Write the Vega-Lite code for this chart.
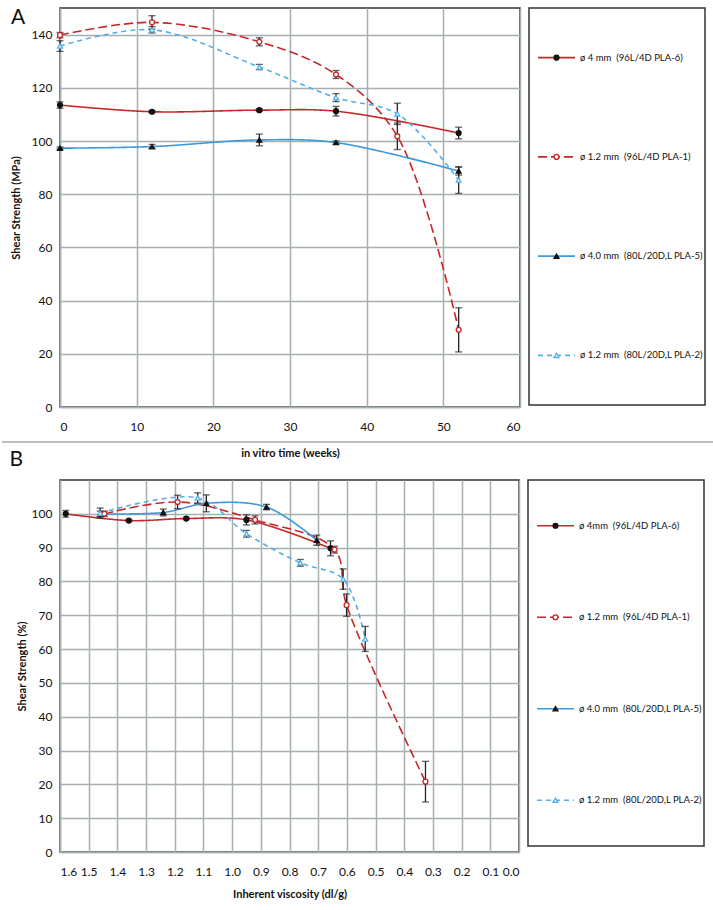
{
  "$schema": "https://vega.github.io/schema/vega-lite/v6.json",
  "padding": {"left": 0, "right": 0, "top": 6, "bottom": 0},
  "spacing": 8,
  "config": {
    "font": "Lato",
    "view": {"stroke": "#333333", "strokeWidth": 1.5},
    "axis": {
      "grid": true, "gridColor": "#a6b0b0", "gridWidth": 1.5,
      "ticks": false, "domain": true, "domainColor": "#a6b0b0", "domainWidth": 1.5,
      "labelFont": "Lato", "labelFontSize": 12, "labelColor": "#111111", "labelOverlap": false,
      "titleFont": "Lato", "titleFontSize": 11, "titleFontWeight": "bold", "titleColor": "#111111"
    }
  },
  "datasets": {
    "a": [
      {"s": "s1", "x": 0, "y": 113.5, "e": 1.2},
      {"s": "s1", "x": 12, "y": 111, "e": 0.4},
      {"s": "s1", "x": 26, "y": 111.6, "e": 0.5},
      {"s": "s1", "x": 36, "y": 111.2, "e": 1.8},
      {"s": "s1", "x": 52, "y": 103, "e": 2.2},
      {"s": "s2", "x": 0, "y": 139.8, "e": 1},
      {"s": "s2", "x": 12, "y": 144.6, "e": 2.5},
      {"s": "s2", "x": 26, "y": 137.3, "e": 1.5},
      {"s": "s2", "x": 36, "y": 125, "e": 1.5},
      {"s": "s2", "x": 44, "y": 101.8, "e": 5},
      {"s": "s2", "x": 52, "y": 29, "e": 8.3},
      {"s": "s3", "x": 0, "y": 97.3, "e": 0.4},
      {"s": "s3", "x": 12, "y": 97.9, "e": 0.8},
      {"s": "s3", "x": 26, "y": 100.4, "e": 2.2},
      {"s": "s3", "x": 36, "y": 99.4, "e": 0.6},
      {"s": "s3", "x": 52, "y": 88.7, "e": 1.5},
      {"s": "s4", "x": 0, "y": 135.7, "e": 2},
      {"s": "s4", "x": 12, "y": 141.8, "e": 1.2},
      {"s": "s4", "x": 26, "y": 127.8, "e": 1},
      {"s": "s4", "x": 36, "y": 116.3, "e": 1.5},
      {"s": "s4", "x": 44, "y": 110.2, "e": 4},
      {"s": "s4", "x": 52, "y": 85.3, "e": 5}
    ],
    "b": [
      {"s": "s1", "x": 1.58, "y": 100, "e": 1.0},
      {"s": "s1", "x": 1.36, "y": 98.0, "e": 0.3},
      {"s": "s1", "x": 1.16, "y": 98.6, "e": 0.3},
      {"s": "s1", "x": 0.95, "y": 98.2, "e": 1.5},
      {"s": "s1", "x": 0.657, "y": 89.8, "e": 2.2},
      {"s": "s2", "x": 1.445, "y": 100, "e": 0.8},
      {"s": "s2", "x": 1.19, "y": 103.5, "e": 2},
      {"s": "s2", "x": 0.92, "y": 98.2, "e": 1.2},
      {"s": "s2", "x": 0.643, "y": 89.4, "e": 1},
      {"s": "s2", "x": 0.601, "y": 73, "e": 3.3},
      {"s": "s2", "x": 0.326, "y": 20.8, "e": 6},
      {"s": "s3", "x": 1.46, "y": 100, "e": 0.8},
      {"s": "s3", "x": 1.24, "y": 100.4, "e": 1},
      {"s": "s3", "x": 1.09, "y": 103.1, "e": 2.5},
      {"s": "s3", "x": 0.88, "y": 102, "e": 0.8},
      {"s": "s3", "x": 0.705, "y": 92.2, "e": 1.5},
      {"s": "s4", "x": 1.46, "y": 100.2, "e": 1.5},
      {"s": "s4", "x": 1.12, "y": 104.7, "e": 1.5},
      {"s": "s4", "x": 0.95, "y": 94.1, "e": 1},
      {"s": "s4", "x": 0.762, "y": 85.5, "e": 1},
      {"s": "s4", "x": 0.613, "y": 80.7, "e": 3},
      {"s": "s4", "x": 0.536, "y": 63, "e": 3.7}
    ],
    "legA": [
      {"s": "s1", "label": "ø 4 mm\u00a0 (96L/4D PLA-6)"},
      {"s": "s2", "label": "ø 1.2 mm\u00a0 (96L/4D PLA-1)"},
      {"s": "s3", "label": "ø 4.0 mm\u00a0 (80L/20D,L PLA-5)"},
      {"s": "s4", "label": "ø 1.2 mm\u00a0 (80L/20D,L PLA-2)"}
    ],
    "legB": [
      {"s": "s1", "label": "ø 4mm\u00a0 (96L/4D PLA-6)"},
      {"s": "s2", "label": "ø 1.2 mm\u00a0 (96L/4D PLA-1)"},
      {"s": "s3", "label": "ø 4.0 mm\u00a0 (80L/20D,L PLA-5)"},
      {"s": "s4", "label": "ø 1.2 mm\u00a0 (80L/20D,L PLA-2)"}
    ]
  },
  "vconcat": [
    {
      "bounds": "flush",
      "spacing": 9,
      "hconcat": [
        {
          "width": 460,
          "height": 399,
          "data": {"name": "a"},
          "encoding": {
            "x": {"field": "x", "type": "quantitative", "title": "in vitro time (weeks)",
              "scale": {"domain": [0, 60], "nice": false, "zero": false},
              "axis": {"values": [0, 10, 20, 30, 40, 50, 60], "labelPadding": 14, "titlePadding": 15}},
            "y": {"field": "y", "type": "quantitative", "title": "Shear Strength (MPa)",
              "scale": {"domain": [0, 150], "nice": false, "zero": false},
              "axis": {"values": [0, 20, 40, 60, 80, 100, 120, 140], "labelPadding": 8, "titlePadding": 10}}
          },
          "layer": [
            {
              "data": {"values": [{"xa": -7.6, "xb": 85.4, "yy": -13.2}]},
              "mark": {"type": "rule", "clip": false, "color": "#aaaaaa", "strokeWidth": 1.5},
              "encoding": {
                "x": {"field": "xa", "type": "quantitative"},
                "x2": {"field": "xb"},
                "y": {"field": "yy", "type": "quantitative"}
              }
            },
            {
              "data": {"values": [{"t": "A", "px": -6.4, "py": 144}, {"t": "B", "px": -6.6, "py": -22.2}]},
              "mark": {"type": "text", "clip": false, "fontSize": 21, "align": "left", "baseline": "alphabetic", "font": "Lato", "color": "#111111"},
              "encoding": {
                "x": {"field": "px", "type": "quantitative"},
                "y": {"field": "py", "type": "quantitative"},
                "text": {"field": "t"}
              }
            },
            {
              "mark": {"type": "line", "interpolate": "catmull-rom", "strokeWidth": 1.6},
              "encoding": {
                "color": {"field": "s", "type": "nominal", "legend": null,
                  "scale": {"domain": ["s1", "s2", "s3", "s4"], "range": ["#c62828", "#c62828", "#3b99dc", "#55aee8"]}},
                "strokeDash": {"field": "s", "type": "nominal", "legend": null,
                  "scale": {"domain": ["s1", "s2", "s3", "s4"], "range": [[1, 0], [9, 4], [1, 0], [5, 4]]}}
              }
            },
            {
              "transform": [{"filter": "datum.e > 0"}],
              "mark": {"type": "errorbar", "ticks": true, "size": 7, "thickness": 1.3, "color": "#222222"},
              "encoding": {"yError": {"field": "e"}}
            },
            {
              "mark": {"type": "point", "opacity": 1, "strokeWidth": 1.3, "size": 24},
              "encoding": {
                "shape": {"field": "s", "type": "nominal", "legend": null,
                  "scale": {"domain": ["s1", "s2", "s3", "s4"], "range": ["circle", "circle", "triangle-up", "triangle-up"]}},
                "fill": {"field": "s", "type": "nominal", "legend": null,
                  "scale": {"domain": ["s1", "s2", "s3", "s4"], "range": ["#111111", "#ffffff", "#111111", "#ffffff"]}},
                "stroke": {"field": "s", "type": "nominal", "legend": null,
                  "scale": {"domain": ["s1", "s2", "s3", "s4"], "range": ["#111111", "#c62828", "#111111", "#55aee8"]}}
              }
            }
          ]
        },
        {
          "width": 176,
          "height": 397,
          "data": {"name": "legA"},
          "encoding": {
            "y": {"field": "s", "type": "nominal", "axis": null,
              "scale": {"type": "point", "padding": 0.5, "domain": ["s1", "s2", "s3", "s4"]}}
          },
          "layer": [
            {
              "mark": {"type": "rule", "strokeWidth": 1.6},
              "encoding": {
                "x": {"datum": 9, "type": "quantitative", "scale": {"domain": [0, 176], "nice": false, "zero": false}, "axis": null},
                "x2": {"datum": 46},
                "color": {"field": "s", "type": "nominal", "legend": null,
                  "scale": {"domain": ["s1", "s2", "s3", "s4"], "range": ["#c62828", "#c62828", "#3b99dc", "#55aee8"]}},
                "strokeDash": {"field": "s", "type": "nominal", "legend": null,
                  "scale": {"domain": ["s1", "s2", "s3", "s4"], "range": [[1, 0], [9, 4], [1, 0], [5, 4]]}}
              }
            },
            {
              "mark": {"type": "point", "opacity": 1, "strokeWidth": 1.3, "size": 24},
              "encoding": {
                "x": {"datum": 27.5, "type": "quantitative"},
                "shape": {"field": "s", "type": "nominal", "legend": null,
                  "scale": {"domain": ["s1", "s2", "s3", "s4"], "range": ["circle", "circle", "triangle-up", "triangle-up"]}},
                "fill": {"field": "s", "type": "nominal", "legend": null,
                  "scale": {"domain": ["s1", "s2", "s3", "s4"], "range": ["#111111", "#ffffff", "#111111", "#ffffff"]}},
                "stroke": {"field": "s", "type": "nominal", "legend": null,
                  "scale": {"domain": ["s1", "s2", "s3", "s4"], "range": ["#111111", "#c62828", "#111111", "#55aee8"]}}
              }
            },
            {
              "mark": {"type": "text", "align": "left", "baseline": "middle", "fontSize": 9.5, "font": "Lato", "color": "#111111"},
              "encoding": {
                "x": {"datum": 51, "type": "quantitative"},
                "text": {"field": "label"}
              }
            }
          ]
        }
      ]
    },
    {
      "bounds": "flush",
      "spacing": 9,
      "hconcat": [
        {
          "width": 459,
          "height": 372,
          "data": {"name": "b"},
          "encoding": {
            "x": {"field": "x", "type": "quantitative", "title": "Inherent viscosity (dl/g)",
              "scale": {"domain": [0, 1.6], "reverse": true, "nice": false, "zero": false},
              "axis": {"values": [0, 0.1, 0.2, 0.3, 0.4, 0.5, 0.6, 0.7, 0.8, 0.9, 1.0, 1.1, 1.2, 1.3, 1.4, 1.5, 1.6], "format": ".1f", "labelPadding": 14, "titlePadding": 11}},
            "y": {"field": "y", "type": "quantitative", "title": "Shear Strength (%)",
              "scale": {"domain": [0, 110], "nice": false, "zero": false},
              "axis": {"values": [0, 10, 20, 30, 40, 50, 60, 70, 80, 90, 100], "labelPadding": 8, "titlePadding": 4}}
          },
          "layer": [
            {
              "mark": {"type": "line", "interpolate": "catmull-rom", "strokeWidth": 1.6},
              "encoding": {
                "color": {"field": "s", "type": "nominal", "legend": null,
                  "scale": {"domain": ["s1", "s2", "s3", "s4"], "range": ["#c62828", "#c62828", "#3b99dc", "#55aee8"]}},
                "strokeDash": {"field": "s", "type": "nominal", "legend": null,
                  "scale": {"domain": ["s1", "s2", "s3", "s4"], "range": [[1, 0], [9, 4], [1, 0], [5, 4]]}}
              }
            },
            {
              "transform": [{"filter": "datum.e > 0"}],
              "mark": {"type": "errorbar", "ticks": true, "size": 7, "thickness": 1.3, "color": "#222222"},
              "encoding": {"yError": {"field": "e"}}
            },
            {
              "mark": {"type": "point", "opacity": 1, "strokeWidth": 1.3, "size": 24},
              "encoding": {
                "shape": {"field": "s", "type": "nominal", "legend": null,
                  "scale": {"domain": ["s1", "s2", "s3", "s4"], "range": ["circle", "circle", "triangle-up", "triangle-up"]}},
                "fill": {"field": "s", "type": "nominal", "legend": null,
                  "scale": {"domain": ["s1", "s2", "s3", "s4"], "range": ["#111111", "#ffffff", "#111111", "#ffffff"]}},
                "stroke": {"field": "s", "type": "nominal", "legend": null,
                  "scale": {"domain": ["s1", "s2", "s3", "s4"], "range": ["#111111", "#c62828", "#111111", "#55aee8"]}}
              }
            }
          ]
        },
        {
          "width": 176,
          "height": 366,
          "data": {"name": "legB"},
          "encoding": {
            "y": {"field": "s", "type": "nominal", "axis": null,
              "scale": {"type": "point", "padding": 0.5, "domain": ["s1", "s2", "s3", "s4"]}}
          },
          "layer": [
            {
              "mark": {"type": "rule", "strokeWidth": 1.6},
              "encoding": {
                "x": {"datum": 9, "type": "quantitative", "scale": {"domain": [0, 176], "nice": false, "zero": false}, "axis": null},
                "x2": {"datum": 46},
                "color": {"field": "s", "type": "nominal", "legend": null,
                  "scale": {"domain": ["s1", "s2", "s3", "s4"], "range": ["#c62828", "#c62828", "#3b99dc", "#55aee8"]}},
                "strokeDash": {"field": "s", "type": "nominal", "legend": null,
                  "scale": {"domain": ["s1", "s2", "s3", "s4"], "range": [[1, 0], [9, 4], [1, 0], [5, 4]]}}
              }
            },
            {
              "mark": {"type": "point", "opacity": 1, "strokeWidth": 1.3, "size": 24},
              "encoding": {
                "x": {"datum": 27.5, "type": "quantitative"},
                "shape": {"field": "s", "type": "nominal", "legend": null,
                  "scale": {"domain": ["s1", "s2", "s3", "s4"], "range": ["circle", "circle", "triangle-up", "triangle-up"]}},
                "fill": {"field": "s", "type": "nominal", "legend": null,
                  "scale": {"domain": ["s1", "s2", "s3", "s4"], "range": ["#111111", "#ffffff", "#111111", "#ffffff"]}},
                "stroke": {"field": "s", "type": "nominal", "legend": null,
                  "scale": {"domain": ["s1", "s2", "s3", "s4"], "range": ["#111111", "#c62828", "#111111", "#55aee8"]}}
              }
            },
            {
              "mark": {"type": "text", "align": "left", "baseline": "middle", "fontSize": 9.5, "font": "Lato", "color": "#111111"},
              "encoding": {
                "x": {"datum": 51, "type": "quantitative"},
                "text": {"field": "label"}
              }
            }
          ]
        }
      ]
    }
  ]
}
